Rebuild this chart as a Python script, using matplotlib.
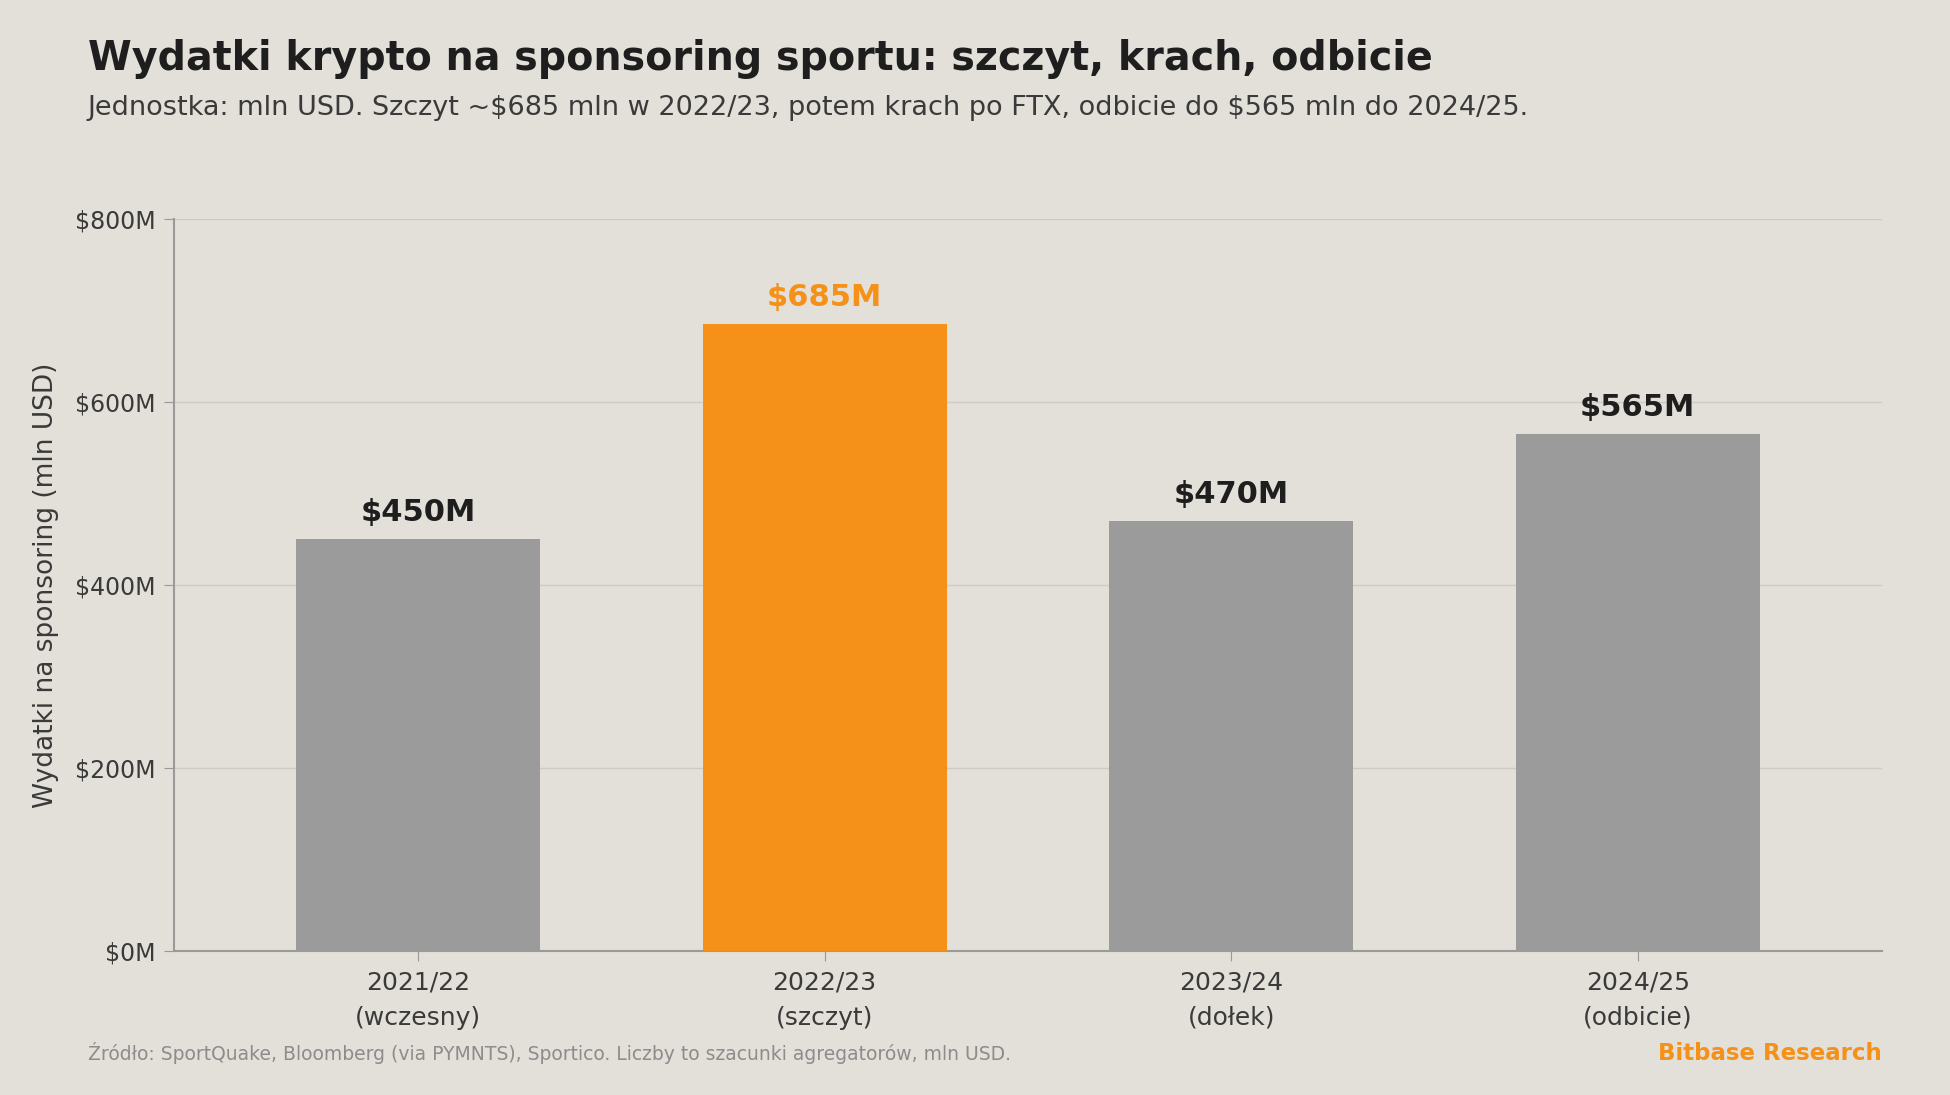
import matplotlib.pyplot as plt
from matplotlib.ticker import FuncFormatter

plt.rcParams['font.family'] = ['DejaVu Sans']

# data
seasons = ["2021/22\n(wczesny)", "2022/23\n(szczyt)", "2023/24\n(dołek)", "2024/25\n(odbicie)"]
spend = [450, 685, 470, 565]
value_labels = [r"\$450M", r"\$685M", r"\$470M", r"\$565M"]
peak_index = 1

bg = "#e3dfd9"
grey = "#9b9b9b"
orange = "#f59118"
dark = "#1e1e1e"

fig = plt.figure(figsize=(19.5, 10.95), dpi=100, facecolor=bg)
ax = fig.add_axes([0.0892, 0.1315, 0.8758, 0.6685], facecolor=bg)

colors = [orange if i == peak_index else grey for i in range(len(spend))]
x = list(range(len(spend)))
ax.bar(x, spend, width=0.6, color=colors, zorder=3)

for i, v in enumerate(spend):
    ax.text(i, v + 13, value_labels[i], ha="center", va="bottom", fontsize=22,
            fontweight="bold", color=orange if i == peak_index else dark, zorder=4)

ax.set_xlim(-0.6, 3.6)
ax.set_ylim(0, 800)
ax.set_yticks([0, 200, 400, 600, 800])
ax.yaxis.set_major_formatter(FuncFormatter(lambda v, p: r"\$%dM" % v))
ax.set_xticks(x)
ax.set_xticklabels(seasons, fontsize=18, color="#3a3a3a", linespacing=1.6)
ax.tick_params(axis="y", labelsize=17, labelcolor="#3a3a3a", color="#999999", length=7, pad=6)
ax.tick_params(axis="x", color="#999999", length=7, pad=7)
ax.grid(axis="y", color="#cfcac3", linewidth=1, zorder=0)
for s in ["top", "right"]:
    ax.spines[s].set_visible(False)
for s in ["left", "bottom"]:
    ax.spines[s].set_color("#9a9a9a")
    ax.spines[s].set_linewidth(1.5)
ax.set_ylabel("Wydatki na sponsoring (mln USD)", fontsize=19, color="#3a3a3a", labelpad=12)

fig.text(0.045, 0.946, "Wydatki krypto na sponsoring sportu: szczyt, krach, odbicie",
         fontsize=28.5, fontweight="bold", color=dark, va="center")
fig.text(0.045, 0.901, r"Jednostka: mln USD. Szczyt ~\$685 mln w 2022/23, potem krach po FTX, odbicie do \$565 mln do 2024/25.",
         fontsize=19.5, color="#3a3a3a", va="center")
fig.text(0.045, 0.038, "Źródło: SportQuake, Bloomberg (via PYMNTS), Sportico. Liczby to szacunki agregatorów, mln USD.",
         fontsize=13.5, color="#8c8c8c", va="center")
fig.text(0.965, 0.038, "Bitbase Research", fontsize=16.5, fontweight="bold", color=orange,
         ha="right", va="center")

fig.savefig("out.png", dpi=100, facecolor=bg)
